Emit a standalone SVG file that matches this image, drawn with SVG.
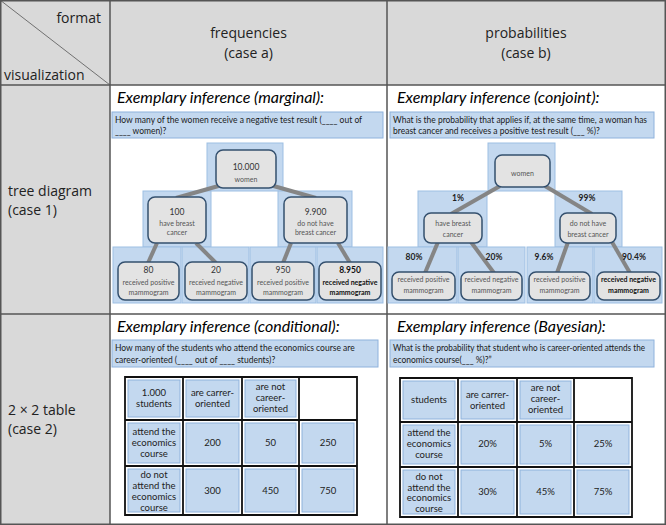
<svg xmlns="http://www.w3.org/2000/svg" width="666" height="525" viewBox="0 0 666 525">
<style>
.hdr{font-family:"Open Sans","DejaVu Sans",sans-serif;font-size:14px;fill:#222}
.mid{text-anchor:middle}
.ex{font-family:Lato,"Liberation Sans",sans-serif;font-style:italic;font-size:16px;fill:#000}
.q{font-family:Lato,"Liberation Sans",sans-serif;font-size:8.5px;fill:#1a1a1a}
.qbox{fill:#c3d8ef;stroke:#8eb2dc;stroke-width:1}
.bg{fill:#c3d8ef;stroke:#9dbfe3;stroke-width:1}
.node{fill:#e3e3e3;stroke:#34506e;stroke-width:1.5}
.nt{font-family:Lato,"Liberation Sans",sans-serif;font-size:7px;fill:#555;text-anchor:middle}
.nn{font-family:Lato,"Liberation Sans",sans-serif;font-size:8.5px;fill:#333;text-anchor:middle}
.b{font-weight:bold;fill:#111}
.pct{font-family:Lato,"Liberation Sans",sans-serif;font-size:8.5px;font-weight:bold;fill:#222;text-anchor:middle}
.conn line{stroke:#858585;stroke-width:4}
.cell{fill:#c3d8ef;stroke:#8eb2dc;stroke-width:1}
.grid{fill:none;stroke:#111;stroke-width:1.8}
.tt{font-family:Lato,"Liberation Sans",sans-serif;font-size:9.5px;fill:#222;text-anchor:middle}
.gray{fill:#d9d9d9}
.rule{stroke:#555;stroke-width:1.5;fill:none}
</style>
<rect x="0" y="0" width="666" height="525" fill="#fff"/>
<g id="frame">
<rect class="gray" x="0" y="0" width="666" height="85"/>
<rect class="gray" x="0" y="85" width="110" height="440"/>
<rect class="rule" x="0.75" y="0.75" width="664.5" height="523.5"/>
<line class="rule" x1="110" y1="0" x2="110" y2="525"/>
<line class="rule" x1="387" y1="0" x2="387" y2="525"/>
<line class="rule" x1="0" y1="85" x2="666" y2="85"/>
<line class="rule" x1="0" y1="314" x2="666" y2="314"/>
<line x1="0" y1="0" x2="110" y2="85" stroke="#555" stroke-width="0.8"/>
</g>
<g id="headers">
<text class="hdr" x="101" y="23" text-anchor="end">format</text>
<text class="hdr" x="4" y="80">visualization</text>
<text class="hdr mid" x="248.5" y="38">frequencies</text>
<text class="hdr mid" x="248.5" y="58">(case a)</text>
<text class="hdr mid" x="526" y="38">probabilities</text>
<text class="hdr mid" x="526" y="58">(case b)</text>
<text class="hdr" x="8" y="196">tree diagram</text>
<text class="hdr" x="8" y="215">(case 1)</text>
<text class="hdr" x="8" y="415">2 × 2 table</text>
<text class="hdr" x="8" y="434">(case 2)</text>
</g>

<g id="q-marginal">
<text class="ex" x="117" y="103">Exemplary inference (marginal):</text>
<rect class="qbox" x="112" y="112" width="271" height="26"/>
<text class="q" x="115" y="122.5">How many of the women receive a negative test result (____ out of</text>
<text class="q" x="115" y="134">____ women)?</text>
</g>
<g id="q-conjoint">
<text class="ex" x="397" y="103">Exemplary inference (conjoint):</text>
<rect class="qbox" x="390" y="112" width="264" height="26"/>
<text class="q" x="393" y="122.5" textLength="254" lengthAdjust="spacingAndGlyphs">What is the probability that applies if, at the same time, a woman has</text>
<text class="q" x="393" y="134">breast cancer and receives a positive test result (___ %)?</text>
</g>

<g id="tree-backgrounds">
<rect class="bg" x="207" y="143" width="76" height="48"/>
<rect class="bg" x="143" y="191" width="68" height="56"/>
<rect class="bg" x="278" y="191" width="74" height="56"/>
<rect class="bg" x="113" y="247" width="68" height="56"/>
<rect class="bg" x="182" y="247" width="67" height="56"/>
<rect class="bg" x="250" y="247" width="66" height="56"/>
<rect class="bg" x="317" y="247" width="66" height="56"/>
<rect class="bg" x="488" y="143" width="67" height="48"/>
<rect class="bg" x="418" y="191" width="69" height="56"/>
<rect class="bg" x="555" y="191" width="67" height="56"/>
<rect class="bg" x="388" y="247" width="69" height="56"/>
<rect class="bg" x="458" y="247" width="67" height="56"/>
<rect class="bg" x="527" y="247" width="66" height="56"/>
<rect class="bg" x="594" y="247" width="68" height="56"/>
</g>

<g id="connectors" class="conn">
<line x1="222" y1="185" x2="176" y2="198"/>
<line x1="270" y1="185" x2="316" y2="198"/>
<line x1="157" y1="243" x2="148" y2="263"/>
<line x1="196" y1="243" x2="216" y2="263"/>
<line x1="291" y1="243" x2="283" y2="263"/>
<line x1="338" y1="243" x2="350" y2="263"/>
<line x1="500" y1="186" x2="451" y2="214"/>
<line x1="545" y1="186" x2="592" y2="214"/>
<line x1="438" y1="242" x2="425" y2="273"/>
<line x1="471" y1="242" x2="494" y2="273"/>
<line x1="568" y1="242" x2="557" y2="273"/>
<line x1="612" y1="242" x2="630" y2="273"/>
</g>

<g id="a-root"><rect class="node" x="216" y="150" width="60" height="38" rx="7"/>
<text class="nn" x="246" y="170">10.000</text><text class="nt" x="246" y="182">women</text></g>
<g id="a-cancer"><rect class="node" x="148" y="197" width="58" height="46" rx="7"/>
<text class="nn" x="177" y="215">100</text><text class="nt" x="177" y="225.5">have breast</text><text class="nt" x="177" y="235">cancer</text></g>
<g id="a-nocancer"><rect class="node" x="284" y="197" width="63" height="46" rx="7"/>
<text class="nn" x="315.5" y="215">9.900</text><text class="nt" x="315.5" y="225.5">do not have</text><text class="nt" x="315.5" y="235">breast cancer</text></g>
<g id="a-cp"><rect class="node" x="118" y="262" width="61" height="38" rx="7"/>
<text class="nn" x="148.5" y="273">80</text><text class="nt" x="148.5" y="284.5">received positive</text><text class="nt" x="148.5" y="294.5">mammogram</text></g>
<g id="a-cn"><rect class="node" x="185" y="262" width="62" height="38" rx="7"/>
<text class="nn" x="216" y="273">20</text><text class="nt" x="216" y="284.5">received negative</text><text class="nt" x="216" y="294.5">mammogram</text></g>
<g id="a-np"><rect class="node" x="252" y="262" width="62" height="38" rx="7"/>
<text class="nn" x="283" y="273">950</text><text class="nt" x="283" y="284.5">received positive</text><text class="nt" x="283" y="294.5">mammogram</text></g>
<g id="a-nn"><rect class="node" x="319" y="262" width="62" height="38" rx="7"/>
<text class="nn b" x="350" y="273">8.950</text><text class="nt b" x="350" y="284.5">received negative</text><text class="nt b" x="350" y="294.5">mammogram</text></g>

<g id="b-root"><rect class="node" x="495" y="155" width="55" height="32" rx="7"/>
<text class="nt" x="522.5" y="175.5">women</text></g>
<g id="b-labels">
<text class="pct" x="458" y="201">1%</text>
<text class="pct" x="587" y="201">99%</text>
<text class="pct" x="414" y="260">80%</text>
<text class="pct" x="494" y="260">20%</text>
<text class="pct" x="544" y="260">9.6%</text>
<text class="pct" x="634" y="260">90.4%</text>
</g>
<g id="b-cancer"><rect class="node" x="424" y="213" width="58" height="30" rx="7"/>
<text class="nt" x="453" y="225.5">have breast</text><text class="nt" x="453" y="237">cancer</text></g>
<g id="b-nocancer"><rect class="node" x="560" y="213" width="56" height="30" rx="7"/>
<text class="nt" x="588" y="225.5">do not have</text><text class="nt" x="588" y="237">breast cancer</text></g>
<g id="b-cp"><rect class="node" x="392" y="272" width="63" height="28" rx="7"/>
<text class="nt" x="423.5" y="282">received positive</text><text class="nt" x="423.5" y="292.5">mammogram</text></g>
<g id="b-cn"><rect class="node" x="461" y="272" width="61" height="28" rx="7"/>
<text class="nt" x="491.5" y="282">recieved negative</text><text class="nt" x="491.5" y="292.5">mammogram</text></g>
<g id="b-np"><rect class="node" x="529" y="272" width="61" height="28" rx="7"/>
<text class="nt" x="559.5" y="282">received positive</text><text class="nt" x="559.5" y="292.5">mammogram</text></g>
<g id="b-nn"><rect class="node" x="597" y="272" width="63" height="28" rx="7"/>
<text class="nt b" x="628.5" y="282">received negative</text><text class="nt b" x="628.5" y="292.5">mammogram</text></g>

<g id="q-conditional">
<text class="ex" x="117" y="332">Exemplary inference (conditional):</text>
<rect class="qbox" x="112" y="340" width="266" height="27"/>
<text class="q" x="115" y="351">How many of the students who attend the economics course are</text>
<text class="q" x="115" y="362.5">career-oriented (____ out of ____ students)?</text>
</g>
<g id="q-bayesian">
<text class="ex" x="397" y="332">Exemplary inference (Bayesian):</text>
<rect class="qbox" x="390" y="340" width="264" height="27"/>
<text class="q" x="393" y="351" textLength="252" lengthAdjust="spacingAndGlyphs">What is the probability that student who is career-oriented attends the</text>
<text class="q" x="393" y="362.5">economics course(___ %)?”</text>
</g>

<g id="table-a">
<rect class="cell" x="128" y="380" width="52" height="37"/>
<rect class="cell" x="186" y="380" width="53" height="37"/>
<rect class="cell" x="245" y="380" width="51" height="37"/>
<rect class="cell" x="128" y="423" width="52" height="40"/>
<rect class="cell" x="186" y="423" width="53" height="40"/>
<rect class="cell" x="245" y="423" width="51" height="40"/>
<rect class="cell" x="302" y="423" width="52" height="40"/>
<rect class="cell" x="128" y="469" width="52" height="43"/>
<rect class="cell" x="186" y="469" width="53" height="43"/>
<rect class="cell" x="245" y="469" width="51" height="43"/>
<rect class="cell" x="302" y="469" width="52" height="43"/>
<path class="grid" d="M125,377H357V515H125Z M183,377V515 M242,377V515 M299,377V515 M125,420H357 M125,466H357"/>
<text class="tt" x="154" y="396">1.000</text><text class="tt" x="154" y="406.5">students</text>
<text class="tt" x="212.5" y="396">are carrer-</text><text class="tt" x="212.5" y="406.5">oriented</text>
<text class="tt" x="270.5" y="390">are not</text><text class="tt" x="270.5" y="401">career-</text><text class="tt" x="270.5" y="412">oriented</text>
<text class="tt" x="154" y="435">attend the</text><text class="tt" x="154" y="446">economics</text><text class="tt" x="154" y="457">course</text>
<text class="tt" x="212.5" y="446">200</text><text class="tt" x="270.5" y="446">50</text><text class="tt" x="328" y="446">250</text>
<text class="tt" x="154" y="478">do not</text><text class="tt" x="154" y="489">attend the</text><text class="tt" x="154" y="500">economics</text><text class="tt" x="154" y="511">course</text>
<text class="tt" x="212.5" y="494">300</text><text class="tt" x="270.5" y="494">450</text><text class="tt" x="328" y="494">750</text>
</g>

<g id="table-b">
<rect class="cell" x="403" y="381" width="52" height="38"/>
<rect class="cell" x="461" y="381" width="53" height="38"/>
<rect class="cell" x="520" y="381" width="51" height="38"/>
<rect class="cell" x="403" y="425" width="52" height="39"/>
<rect class="cell" x="461" y="425" width="53" height="39"/>
<rect class="cell" x="520" y="425" width="51" height="39"/>
<rect class="cell" x="577" y="425" width="52" height="39"/>
<rect class="cell" x="403" y="470" width="52" height="44"/>
<rect class="cell" x="461" y="470" width="53" height="44"/>
<rect class="cell" x="520" y="470" width="51" height="44"/>
<rect class="cell" x="577" y="470" width="52" height="44"/>
<path class="grid" d="M400,378H632V517H400Z M458,378V517 M517,378V517 M574,378V517 M400,422H632 M400,467H632"/>
<text class="tt" x="429" y="403">students</text>
<text class="tt" x="487.5" y="398">are carrer-</text><text class="tt" x="487.5" y="409">oriented</text>
<text class="tt" x="545.5" y="391">are not</text><text class="tt" x="545.5" y="402">career-</text><text class="tt" x="545.5" y="413">oriented</text>
<text class="tt" x="429" y="436">attend the</text><text class="tt" x="429" y="447">economics</text><text class="tt" x="429" y="458">course</text>
<text class="tt" x="487.5" y="447">20%</text><text class="tt" x="545.5" y="447">5%</text><text class="tt" x="603" y="447">25%</text>
<text class="tt" x="429" y="480">do not</text><text class="tt" x="429" y="490.5">attend the</text><text class="tt" x="429" y="501">economics</text><text class="tt" x="429" y="511.5">course</text>
<text class="tt" x="487.5" y="495">30%</text><text class="tt" x="545.5" y="495">45%</text><text class="tt" x="603" y="495">75%</text>
</g>
</svg>
